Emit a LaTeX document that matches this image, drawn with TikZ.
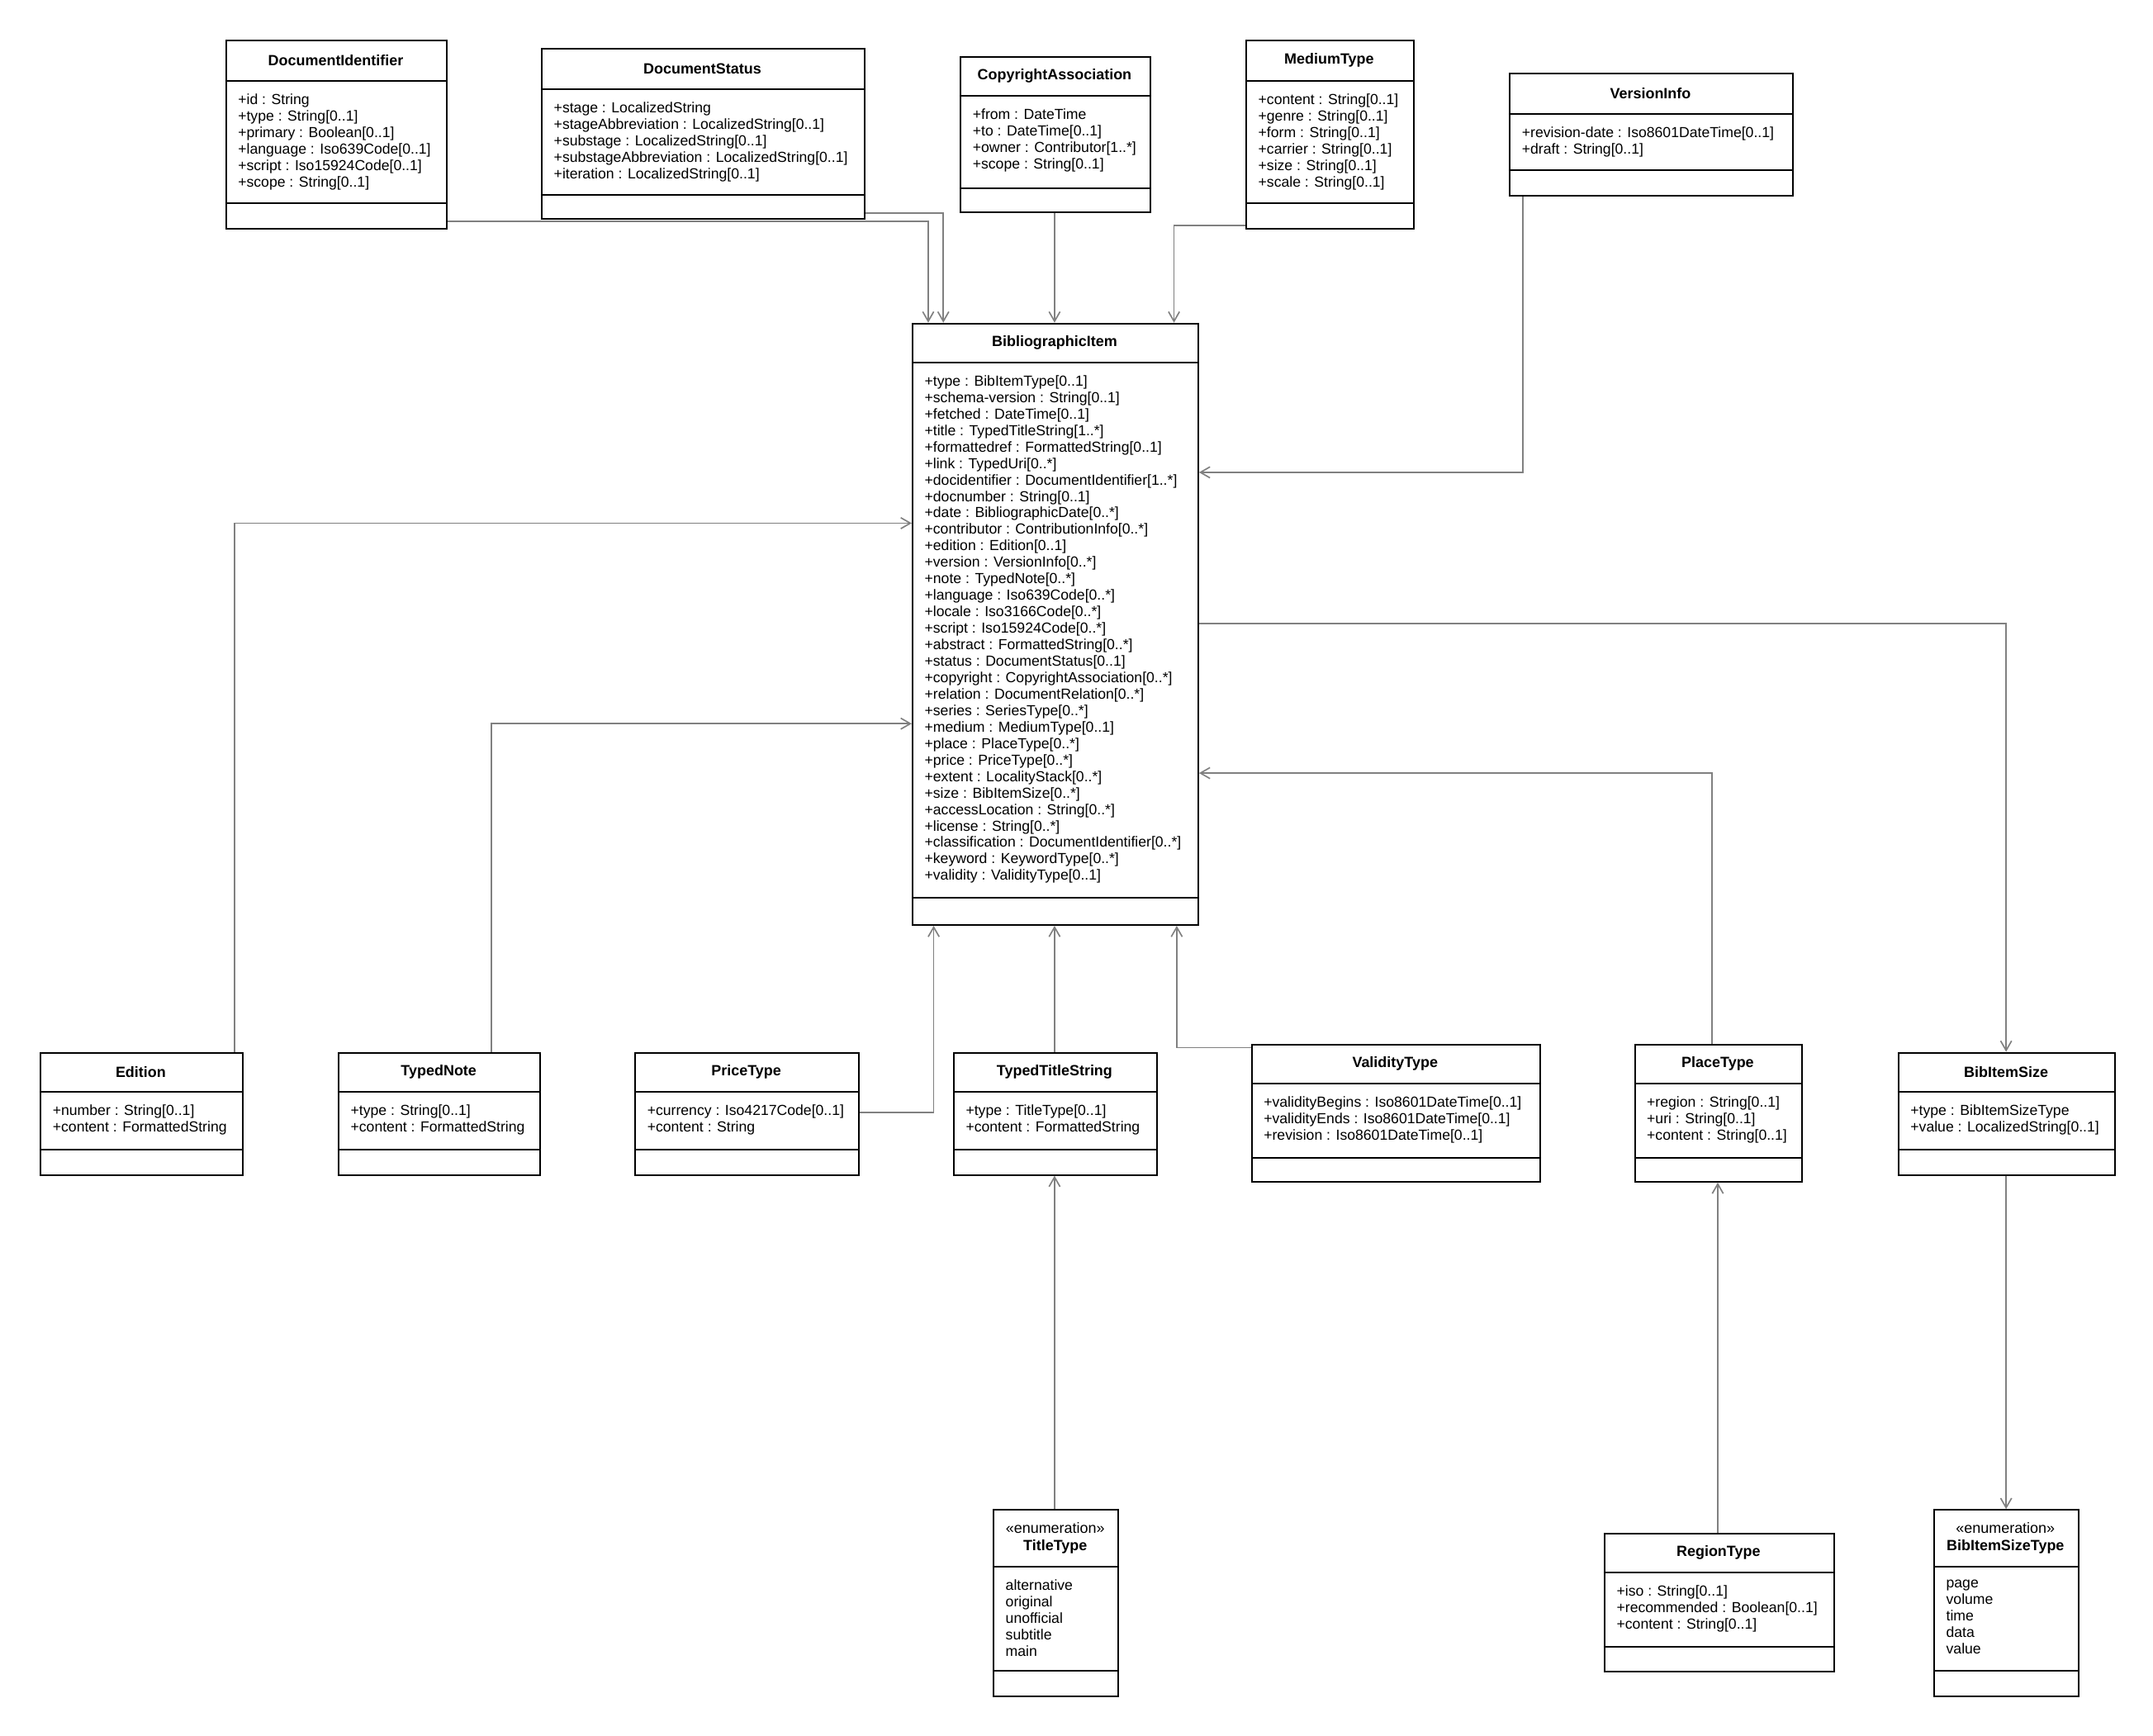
\documentclass[tikz,border=0pt]{standalone}
\usepackage{fontspec}
\setmainfont{Liberation Sans}
\usetikzlibrary{arrows.meta}
\newcommand\umlbox[9]{%
 \node[draw,line width=0.6pt,inner sep=0pt,anchor=north west,minimum width={(#4-#2)*0.5pt},minimum height={(#5-#3)*0.5pt}] (#1) at (#2,#3) {};
 \draw[line width=0.6pt] (#2,#6) -- (#4,#6);
 \draw[line width=0.6pt] (#2,#7) -- (#4,#7);
 \node[font=\fontsize{5.4}{6.2}\selectfont,align=center,inner sep=0pt] at ({(#2+#4)/2},{(#3+#6)/2}) {#8};
 \node[font=\fontsize{5.3}{6}\selectfont,align=left,anchor=north west,inner sep=0pt] at ({#2+9},{#6+9}) {#9};
}
\begin{document}
\begin{tikzpicture}[x=0.5pt,y=-0.5pt,conn/.style={draw=gray,line width=0.5pt,-{Straight Barb[length=3.5pt,width=4pt]}}]
\useasboundingbox[fill=white] (0,0) rectangle (1568,1264);
\umlbox{DI}{164}{29}{325}{166}{59}{148}{\textbf{DocumentIdentifier}}{+id : String\\+type : String[0..1]\\+primary : Boolean[0..1]\\+language : Iso639Code[0..1]\\+script : Iso15924Code[0..1]\\+scope : String[0..1]}
\umlbox{DS}{394}{35}{629}{159}{65}{142}{\textbf{DocumentStatus}}{+stage : LocalizedString\\+stageAbbreviation : LocalizedString[0..1]\\+substage : LocalizedString[0..1]\\+substageAbbreviation : LocalizedString[0..1]\\+iteration : LocalizedString[0..1]}
\umlbox{CA}{699}{41}{837}{154}{70}{137}{\textbf{CopyrightAssociation}}{+from : DateTime\\+to : DateTime[0..1]\\+owner : Contributor[1..*]\\+scope : String[0..1]}
\umlbox{MT}{907}{29}{1029}{166}{59}{148}{\textbf{MediumType}}{+content : String[0..1]\\+genre : String[0..1]\\+form : String[0..1]\\+carrier : String[0..1]\\+size : String[0..1]\\+scale : String[0..1]}
\umlbox{VI}{1099}{53}{1305}{142}{83}{124}{\textbf{VersionInfo}}{+revision-date : Iso8601DateTime[0..1]\\+draft : String[0..1]}
\umlbox{BI}{664}{235}{872}{673}{264}{654}{\textbf{BibliographicItem}}{+type : BibItemType[0..1]\\+schema-version : String[0..1]\\+fetched : DateTime[0..1]\\+title : TypedTitleString[1..*]\\+formattedref : FormattedString[0..1]\\+link : TypedUri[0..*]\\+docidentifier : DocumentIdentifier[1..*]\\+docnumber : String[0..1]\\+date : BibliographicDate[0..*]\\+contributor : ContributionInfo[0..*]\\+edition : Edition[0..1]\\+version : VersionInfo[0..*]\\+note : TypedNote[0..*]\\+language : Iso639Code[0..*]\\+locale : Iso3166Code[0..*]\\+script : Iso15924Code[0..*]\\+abstract : FormattedString[0..*]\\+status : DocumentStatus[0..1]\\+copyright : CopyrightAssociation[0..*]\\+relation : DocumentRelation[0..*]\\+series : SeriesType[0..*]\\+medium : MediumType[0..1]\\+place : PlaceType[0..*]\\+price : PriceType[0..*]\\+extent : LocalityStack[0..*]\\+size : BibItemSize[0..*]\\+accessLocation : String[0..*]\\+license : String[0..*]\\+classification : DocumentIdentifier[0..*]\\+keyword : KeywordType[0..*]\\+validity : ValidityType[0..1]}
\umlbox{ED}{29}{766}{176}{855}{795}{837}{\textbf{Edition}}{+number : String[0..1]\\+content : FormattedString}
\umlbox{TN}{246}{766}{393}{855}{795}{837}{\textbf{TypedNote}}{+type : String[0..1]\\+content : FormattedString}
\umlbox{PT}{462}{766}{625}{855}{795}{837}{\textbf{PriceType}}{+currency : Iso4217Code[0..1]\\+content : String}
\umlbox{TTS}{694}{766}{842}{855}{795}{837}{\textbf{TypedTitleString}}{+type : TitleType[0..1]\\+content : FormattedString}
\umlbox{VT}{911}{760}{1121}{860}{789}{843}{\textbf{ValidityType}}{+validityBegins : Iso8601DateTime[0..1]\\+validityEnds : Iso8601DateTime[0..1]\\+revision : Iso8601DateTime[0..1]}
\umlbox{PL}{1190}{760}{1312}{860}{789}{843}{\textbf{PlaceType}}{+region : String[0..1]\\+uri : String[0..1]\\+content : String[0..1]}
\umlbox{BS}{1382}{766}{1540}{855}{795}{837}{\textbf{BibItemSize}}{+type : BibItemSizeType\\+value : LocalizedString[0..1]}
\umlbox{TT}{723}{1099}{814}{1235}{1141}{1217}{«enumeration»\\\textbf{TitleType}}{alternative\\original\\unofficial\\subtitle\\main}
\umlbox{RT}{1168}{1116}{1335}{1217}{1145}{1199}{\textbf{RegionType}}{+iso : String[0..1]\\+recommended : Boolean[0..1]\\+content : String[0..1]}
\umlbox{BST}{1408}{1099}{1513}{1235}{1141}{1217}{«enumeration»\\\textbf{BibItemSizeType}}{page\\volume\\time\\data\\value}
\draw[conn] (DI.east |- 0,161) -| (BI.north -| 676,0);
\draw[conn] (DS.east |- 0,155) -| (BI.north -| 687,0);
\draw[conn] (CA.south -| 768,0) -- (BI.north -| 768,0);
\draw[conn] (MT.west |- 0,164) -| (BI.north -| 855,0);
\draw[conn] (VI.south -| 1109,0) |- (BI.east |- 0,344);
\draw[conn] (ED.north -| 171,0) |- (BI.west |- 0,381);
\draw[conn] (TN.north -| 358,0) |- (BI.west |- 0,527);
\draw[conn] (PT.east |- 0,810) -| (BI.south -| 680,0);
\draw[conn] (TTS.north -| 768,0) -- (BI.south -| 768,0);
\draw[conn] (VT.west |- 0,763) -| (BI.south -| 857,0);
\draw[conn] (PL.north -| 1247,0) |- (BI.east |- 0,563);
\draw[conn] (BI.east |- 0,454) -| (BS.north -| 1461,0);
\draw[conn] (TT.north -| 768,0) -- (TTS.south -| 768,0);
\draw[conn] (RT.north -| 1251,0) -- (PL.south -| 1251,0);
\draw[conn] (BS.south -| 1461,0) -- (BST.north -| 1461,0);
\end{tikzpicture}
\end{document}
